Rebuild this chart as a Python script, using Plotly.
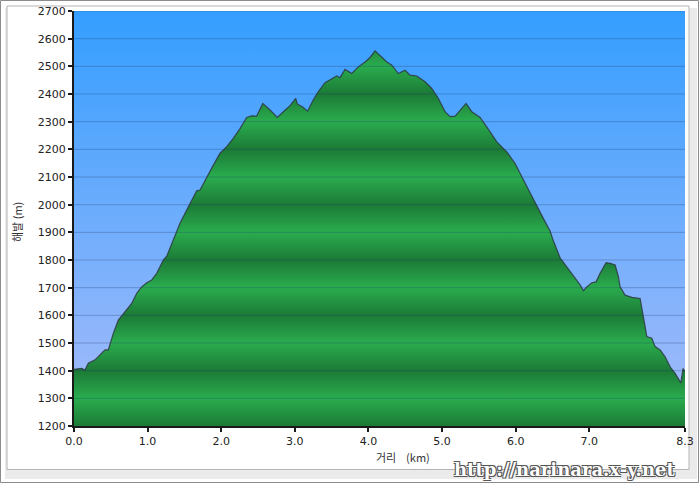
import plotly.graph_objects as go

# ---- data ----
distance_km = [0.00, 0.105, 0.149, 0.194, 0.285, 0.376, 0.421, 0.466, 0.534, 0.602,
               0.670, 0.784, 0.852, 0.920, 0.988, 1.056, 1.124, 1.213, 1.260, 1.349,
               1.440, 1.531, 1.599, 1.667, 1.712, 1.803, 1.893, 1.984, 2.075, 2.164,
               2.255, 2.346, 2.414, 2.482, 2.564, 2.663, 2.762, 2.844, 2.935, 3.012,
               3.034, 3.111, 3.173, 3.251, 3.319, 3.410, 3.501, 3.569, 3.614, 3.682,
               3.773, 3.863, 3.954, 4.022, 4.090, 4.181, 4.249, 4.317, 4.406, 4.497,
               4.565, 4.656, 4.769, 4.860, 4.950, 5.041, 5.109, 5.177, 5.245, 5.326,
               5.404, 5.516, 5.607, 5.743, 5.879, 5.992, 6.083, 6.196, 6.287, 6.386,
               6.467, 6.508, 6.603, 6.693, 6.784, 6.875, 6.920, 6.966, 7.034, 7.092,
               7.147, 7.228, 7.283, 7.351, 7.395, 7.418, 7.486, 7.577, 7.690, 7.713,
               7.758, 7.781, 7.849, 7.894, 7.962, 8.030, 8.098, 8.166, 8.243, 8.274, 8.300]
elevation_m = [1405, 1408, 1402, 1427, 1439, 1463, 1475, 1475, 1535, 1583,
               1607, 1643, 1680, 1703, 1718, 1728, 1752, 1800, 1814, 1872,
               1933, 1981, 2017, 2050, 2053, 2101, 2143, 2186, 2210, 2240,
               2275, 2315, 2321, 2320, 2366, 2342, 2315, 2336, 2358, 2384,
               2364, 2352, 2338, 2379, 2409, 2441, 2453, 2465, 2459, 2489,
               2474, 2498, 2516, 2532, 2556, 2534, 2516, 2504, 2474, 2486,
               2468, 2465, 2444, 2420, 2384, 2336, 2318, 2320, 2342, 2366,
               2336, 2315, 2281, 2227, 2191, 2149, 2101, 2041, 1993, 1945,
               1905, 1872, 1808, 1776, 1746, 1710, 1689, 1703, 1718, 1721,
               1752, 1790, 1788, 1782, 1740, 1703, 1673, 1665, 1661, 1631,
               1559, 1523, 1517, 1487, 1475, 1450, 1414, 1390, 1356, 1408, 1396]

x_tick_vals = [0, 1, 2, 3, 4, 5, 6, 7, 8.3]
x_tick_text = ["0.0", "1.0", "2.0", "3.0", "4.0", "5.0", "6.0", "7.0", "8.3"]
y_tick_vals = list(range(1200, 2701, 100))
x_range = [0, 8.3]
y_range = [1200, 2700]

x_title = "거리    (km)"
y_title = "해발 (m)"
watermark = "http://narinara.x-y.net"

# ---- geometry helpers ----
W, H = 700, 484
ML, MR, MT, MB = 74, 15, 11, 58
PW, PH = W - ML - MR, H - MT - MB


def px(xp):
    return (xp - ML) / PW


def py(yp):
    return (H - MB - yp) / PH


# ---- colour scales ----
sky_bottom = "rgb(168,188,250)"
sky_top = "rgb(52,158,255)"
dark_g = "rgb(28,122,54)"
light_g = "rgb(42,172,78)"
g_start, g_stop = 1200, 2800
green_scale = []
for v in range(g_start, g_stop + 1, 100):
    green_scale.append([(v - g_start) / (g_stop - g_start),
                        dark_g if (v // 100) % 2 == 0 else light_g])

fig = go.Figure()

# sky background
fig.add_trace(go.Scatter(x=x_range, y=[y_range[0]] * 2, mode="lines",
                         line=dict(width=0), hoverinfo="skip", showlegend=False))
fig.add_trace(go.Scatter(x=x_range, y=[y_range[1]] * 2, mode="lines",
                         line=dict(width=0), fill="tonexty",
                         fillgradient=dict(type="vertical", start=y_range[0], stop=y_range[1],
                                           colorscale=[[0, sky_bottom], [1, sky_top]]),
                         hoverinfo="skip", showlegend=False))

# elevation profile
fig.add_trace(go.Scatter(x=distance_km, y=elevation_m, mode="lines",
                         line=dict(color="rgba(45,55,65,0.85)", width=1.2),
                         fill="tozeroy",
                         fillgradient=dict(type="vertical", start=g_start, stop=g_stop,
                                           colorscale=green_scale),
                         showlegend=False))

shapes = [
    # outer frame
    dict(type="rect", xref="paper", yref="paper", x0=px(0.5), x1=px(698.5), y0=py(0.5), y1=py(482.5),
         line=dict(color="#8c8c8c", width=1), fillcolor="white", layer="below"),
    # shadow band
    dict(type="rect", xref="paper", yref="paper", x0=px(5), x1=px(697), y0=py(8), y1=py(479),
         line=dict(width=0), fillcolor="#ebebeb", layer="below"),
    # inner panel
    dict(type="rect", xref="paper", yref="paper", x0=px(7), x1=px(689), y0=py(6), y1=py(469.5),
         line=dict(color="#b4b4b4", width=1), fillcolor="white", layer="below"),
]
for v in y_tick_vals[1:]:
    shapes.append(dict(type="line", xref="paper", yref="y", x0=0, x1=1, y0=v, y1=v,
                       line=dict(color="rgba(30,60,110,0.3)", width=1), layer="above"))

tick_font = dict(family="DejaVu Sans, Verdana, sans-serif", size=11, color="#222222")

fig.update_layout(
    width=W, height=H,
    margin=dict(l=ML, r=MR, t=MT, b=MB),
    paper_bgcolor="white",
    plot_bgcolor="rgba(0,0,0,0)",
    shapes=shapes,
    xaxis=dict(range=x_range, tickvals=x_tick_vals, ticktext=x_tick_text,
               showgrid=False, zeroline=False, showline=True, linecolor="#1a1a1a", linewidth=2,
               ticks="outside", ticklen=4, tickwidth=2, tickcolor="#1a1a1a",
               tickfont=tick_font, layer="above traces", fixedrange=True, automargin=False),
    yaxis=dict(range=y_range, tickvals=y_tick_vals,
               showgrid=False, zeroline=False, showline=True, linecolor="#1a1a1a", linewidth=2,
               ticks="outside", ticklen=4, tickwidth=2, tickcolor="#1a1a1a",
               tickfont=tick_font, layer="above traces", fixedrange=True, automargin=False),
    annotations=[
        dict(text=x_title, xref="paper", yref="paper", x=px(403), y=py(457),
             xanchor="center", yanchor="middle", showarrow=False,
             font=dict(family="Noto Sans CJK KR, DejaVu Sans", size=11, color="#333333")),
        dict(text=y_title, xref="paper", yref="paper", x=px(17), y=py(222),
             xanchor="center", yanchor="middle", showarrow=False, textangle=-90,
             font=dict(family="Noto Sans CJK KR, DejaVu Sans", size=11, color="#333333")),
        dict(text="<b>" + watermark + "</b>", xref="paper", yref="paper", x=px(564), y=py(469),
             xanchor="center", yanchor="middle", showarrow=False,
             font=dict(family="DejaVu Serif, Liberation Serif, serif", size=18, color="white",
                       shadow="-1px -1px 0 #555, 1px -1px 0 #555, -1px 1px 0 #555, 1px 1px 0 #555")),
    ],
)

post_js = (
    "document.documentElement.style.margin='0';"
    "document.body.style.margin='0';document.body.style.padding='0';"
    "var gd=document.getElementById('{plot_id}');"
    "gd.style.position='absolute';gd.style.left='0px';gd.style.top='0px';"
)

fig.write_html("out.html", post_script=post_js, config={"displayModeBar": False})
